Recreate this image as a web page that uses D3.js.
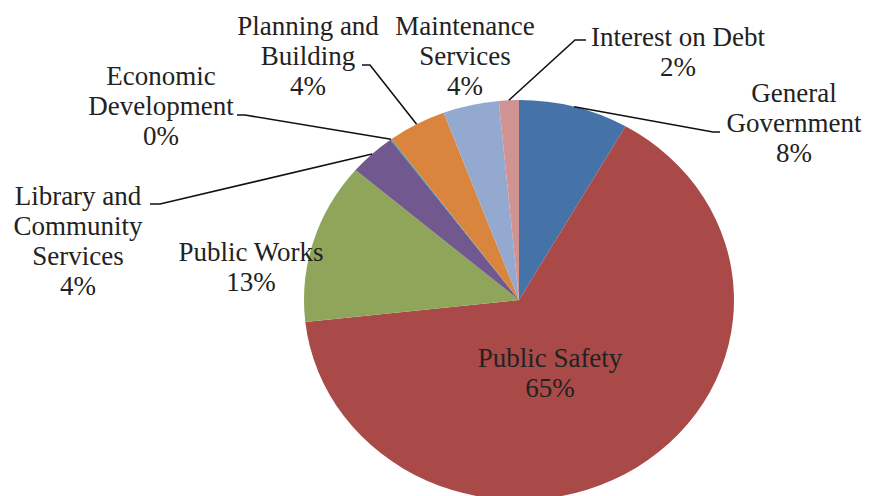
<!DOCTYPE html>
<html>
<head>
<meta charset="utf-8">
<script src="https://cdn.jsdelivr.net/npm/d3@7"></script>
<style>
  html, body { margin: 0; padding: 0; background: #fff; }
  #chart { width: 870px; height: 496px; overflow: hidden; }
</style>
</head>
<body>
<div id="chart"></div>
<script>
// slices, clockwise from 12 o'clock
const categories = ['General Government', 'Public Safety', 'Public Works',
  'Library and Community Services', 'Economic Development',
  'Planning and Building', 'Maintenance Services', 'Interest on Debt'];
const shares = [8.25, 65.0, 13.0, 3.55, 0.1, 4.4, 4.2, 1.5];
const colors = ['#4572A7', '#A94A48', '#8FA55A', '#71588F', '#4198AF', '#D9853E', '#93A9CF', '#D19392'];

// label text lines (name split as in the picture)
const labelLines = [
  ['General', 'Government'],
  ['Public Safety'],
  ['Public Works'],
  ['Library and', 'Community', 'Services'],
  ['Economic', 'Development'],
  ['Planning and', 'Building'],
  ['Maintenance', 'Services'],
  ['Interest on Debt']
];

// label layout: centre x, first baseline, leader elbow + end (null = no leader)
const labelPos = [
  {x: 794, y: 102, elbow: [713, 132], end: [720, 132]},
  {x: 550, y: 367, elbow: null},
  {x: 251, y: 261, elbow: null},
  {x: 78,  y: 205, elbow: [160, 204], end: [150, 204]},
  {x: 161, y: 85,  elbow: [245, 115], end: [237, 115]},
  {x: 308, y: 35,  elbow: [370, 65],  end: [362, 65]},
  {x: 465, y: 35,  elbow: null},
  {x: 678, y: 46,  elbow: [575, 40],  end: [586, 40]}
];

const width = 870, height = 496;
const cx = 519, cy = 300, r = 200, sx = 1.075, lineH = 30;

const svg = d3.select('#chart').append('svg')
  .attr('width', width)
  .attr('height', height);

const data = categories.map((c, i) => ({name: c, value: shares[i], color: colors[i], lines: labelLines[i], pos: labelPos[i]}));
const total = d3.sum(shares);

const pie = d3.pie().value(d => d.value).sort(null);
const arcs = pie(data);
const arc = d3.arc().innerRadius(0).outerRadius(r);

// the picture is a little wider than tall, so the pie is an ellipse
const pieG = svg.append('g')
  .attr('transform', `translate(${cx},${cy}) scale(${sx},1)`);

pieG.selectAll('path')
  .data(arcs)
  .join('path')
    .attr('d', arc)
    .attr('fill', d => d.data.color);

// leader lines from slice edge mid-angle to the label
const leaders = arcs.filter(d => d.data.pos.elbow);
svg.append('g')
    .attr('fill', 'none')
    .attr('stroke', '#111')
    .attr('stroke-width', 1.6)
  .selectAll('polyline')
  .data(leaders)
  .join('polyline')
    .attr('points', d => {
      const a = (d.startAngle + d.endAngle) / 2;
      const p0 = [cx + Math.sin(a) * r * sx, cy - Math.cos(a) * r];
      return [p0, d.data.pos.elbow, d.data.pos.end].map(p => p.join(',')).join(' ');
    });

const labels = svg.append('g')
  .attr('fill', '#222')
  .attr('text-anchor', 'middle')
  .style('font-family', "'Liberation Serif', 'Times New Roman', serif")
  .style('font-size', '27px')
  .selectAll('g')
  .data(arcs)
  .join('g');

labels.each(function(d) {
  const g = d3.select(this);
  const lines = d.data.lines.concat([Math.round(d.data.value / total * 100) + '%']);
  lines.forEach((t, i) => {
    g.append('text')
      .attr('x', d.data.pos.x)
      .attr('y', d.data.pos.y + i * lineH)
      .text(t);
  });
});
</script>
</body>
</html>
